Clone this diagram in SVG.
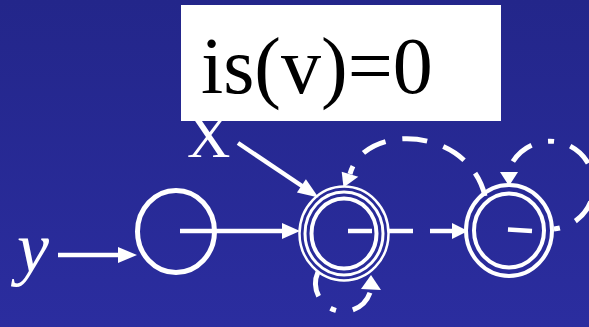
<svg xmlns="http://www.w3.org/2000/svg" width="589" height="327" viewBox="0 0 589 327">
<defs>
<linearGradient id="bg" x1="0" y1="0" x2="0" y2="1">
<stop offset="0" stop-color="#23268a"/>
<stop offset="1" stop-color="#2b2d9f"/>
</linearGradient>
</defs>
<style>
.st{fill:none;stroke:#fff}
.ln{fill:none;stroke:#fff;stroke-width:4.5}
.dash{fill:none;stroke:#fff;stroke-width:5;stroke-dasharray:25 17}
.dd{fill:none;stroke:#fff;stroke-width:5;stroke-dasharray:25 17 6 17}
.ah{fill:#fff}
.lbl{font-family:"Liberation Serif","Times New Roman",serif;fill:#fff}
</style>
<rect width="589" height="327" fill="url(#bg)"/>
<g id="label-x"><text class="lbl" x="187" y="157" font-size="60">X</text></g>
<g id="label-box">
<rect x="181" y="5" width="320" height="116" fill="#fff"/>
<text x="201" y="93" font-size="80" font-family="Liberation Serif, Times New Roman, serif" fill="#000">is(v)=0</text>
</g>
<g id="label-y"><text class="lbl" x="17" y="272" font-size="72" font-style="italic">y</text></g>
<g id="state1"><ellipse class="st" cx="176" cy="231.5" rx="38.5" ry="41" stroke-width="5"/></g>
<g id="state2">
<ellipse class="st" cx="344" cy="233.5" rx="44.5" ry="47" stroke-width="2.5"/>
<ellipse class="st" cx="344" cy="233.5" rx="39" ry="41.5" stroke-width="3"/>
<ellipse class="st" cx="344" cy="233.5" rx="32.5" ry="35" stroke-width="4"/>
</g>
<g id="state3">
<ellipse class="st" cx="509" cy="230.5" rx="43" ry="45.5" stroke-width="4"/>
<ellipse class="st" cx="509" cy="230.5" rx="35" ry="37" stroke-width="4"/>
</g>
<g id="connectors">
<line class="ln" x1="58" y1="255" x2="120" y2="255"/>
<polygon class="ah" points="118,247 137,255 118,263"/>
<line class="ln" x1="180" y1="231" x2="284" y2="231"/>
<polygon class="ah" points="282,223 300,231 282,239"/>
<line class="ln" x1="238" y1="143" x2="302" y2="186" stroke-width="5"/>
<polygon class="ah" points="296.9,192.4 305.9,179.2 318.5,197.5"/>
<line class="ln" x1="348" y1="231" x2="454" y2="231" stroke-width="5" style="stroke-dasharray:24 17 24 17 24 100"/>
<polygon class="ah" points="452,223 468,231 452,239"/>
<line class="ln" x1="508" y1="229.5" x2="532" y2="231" stroke-width="5"/>
<path class="dash" d="M485,196 C468,126 364,122 350,174"/>
<polygon class="ah" points="341.7,171.7 358.3,176.7 343.5,187.5"/>
<path class="dd" d="M554,229 A44,44 0 1 0 508,172" style="stroke-dashoffset:42"/>
<polygon class="ah" points="500,172 518,172 509,186"/>
<path class="dd" d="M318,272 A28,28 0 1 0 371,289"/>
<polygon class="ah" points="371,275 361,289 381,290"/>
</g>
</svg>
